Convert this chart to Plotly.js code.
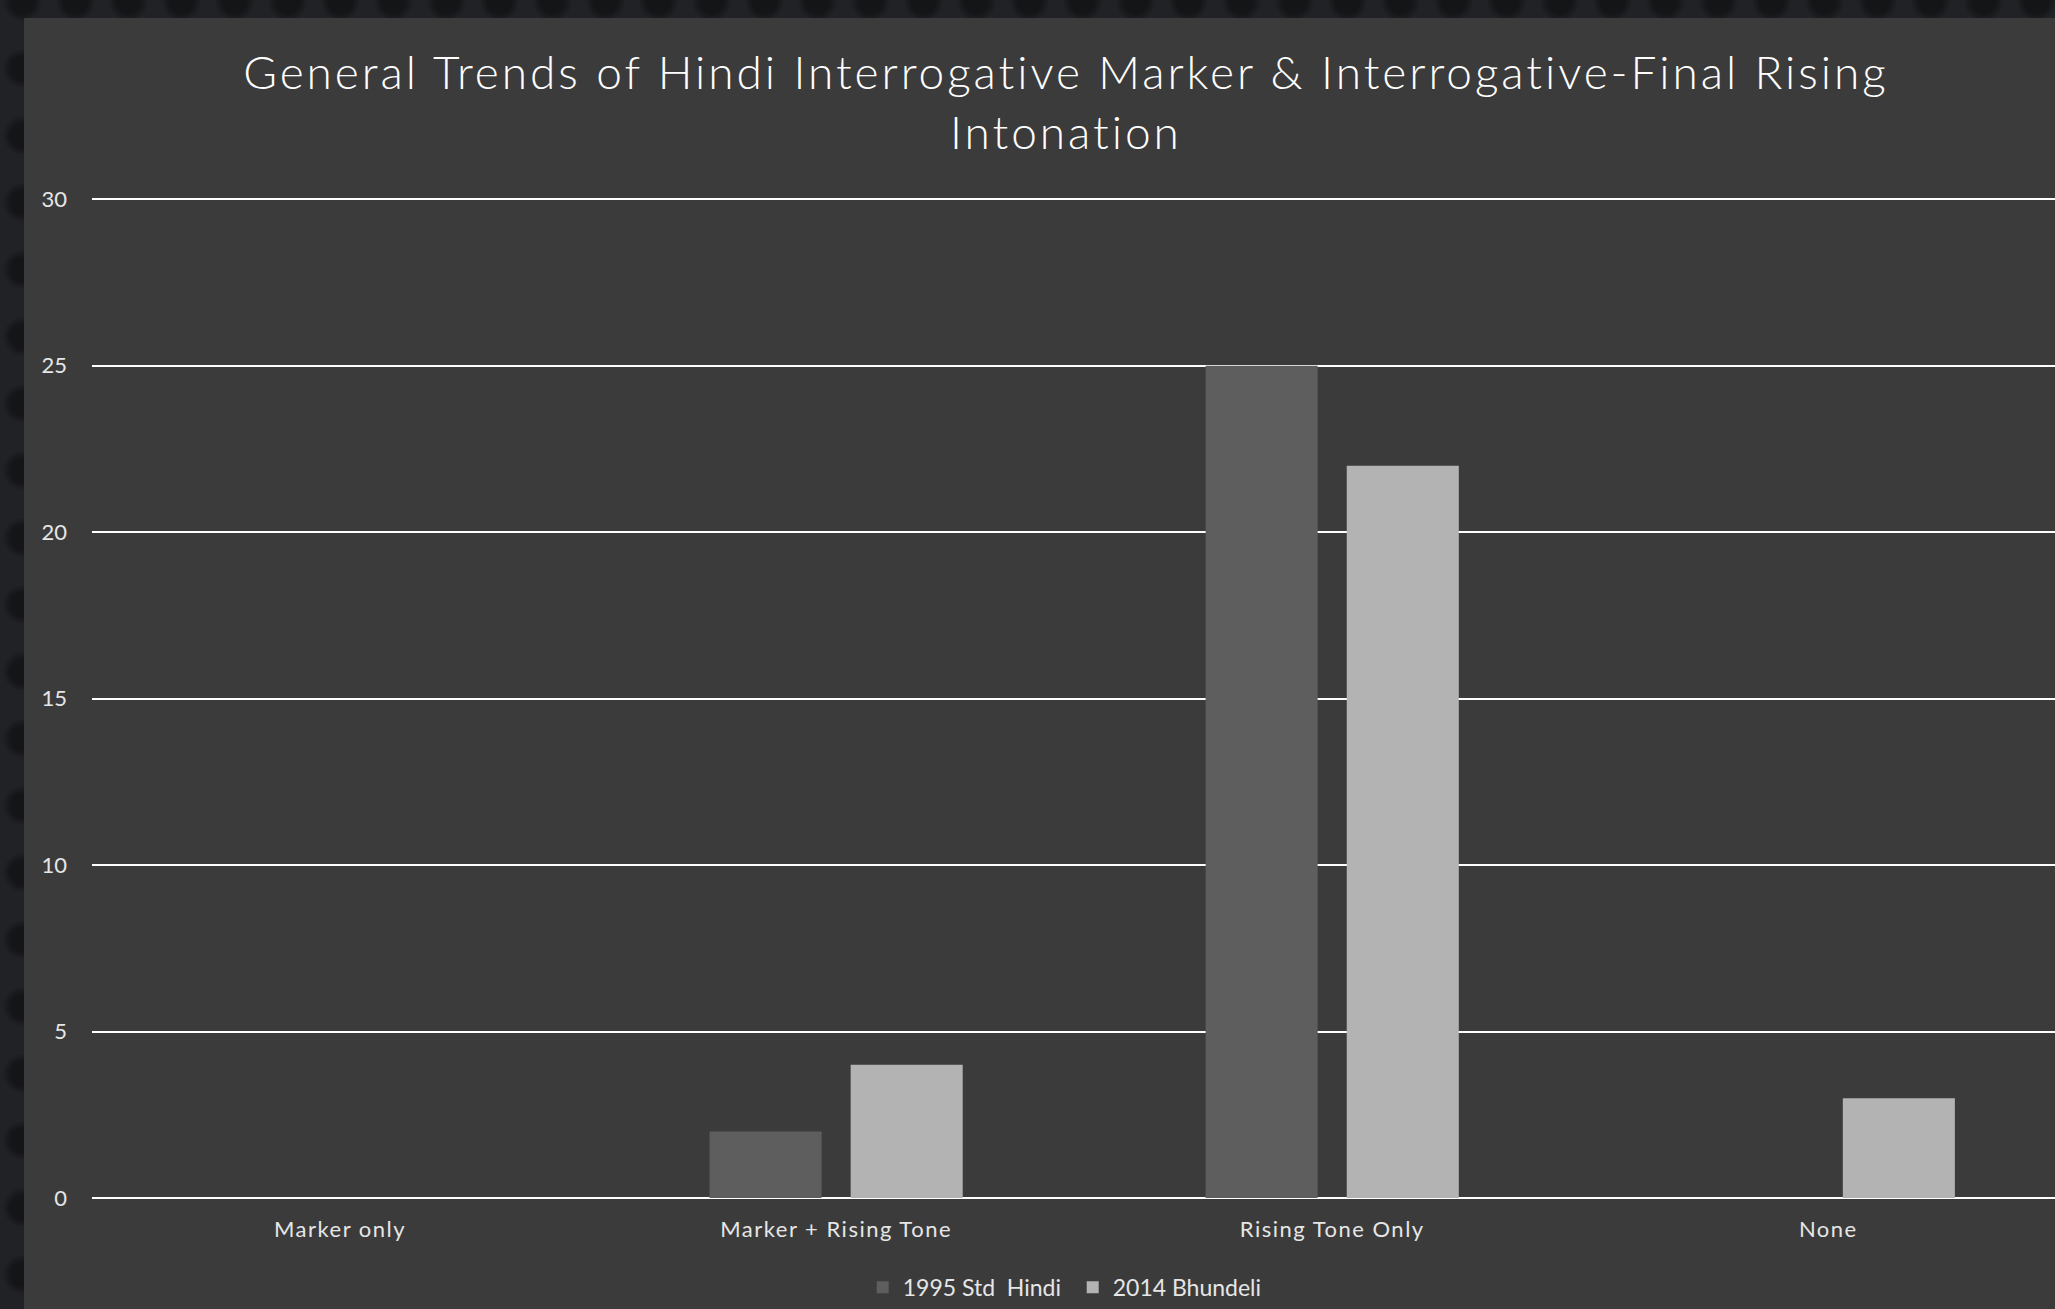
<!DOCTYPE html>
<html>
<head>
<meta charset="utf-8">
<script src="https://cdn.plot.ly/plotly-3.0.1.min.js"></script>
<style>
  html, body { margin: 0; padding: 0; width: 2055px; height: 1309px; overflow: hidden; }
  body {
    background-color: #202226;
    background-image: radial-gradient(circle at 50% 35%, #141517 0px, #141517 12px, rgba(20,21,23,0) 20px);
    background-size: 53px 67px;
    background-position: -4px -22px;
  }
  #chart { position: absolute; left: 24px; top: 18px; width: 2031px; height: 1291px; }
  #chart .gtitle { letter-spacing: 2.95px; }
  #chart .xtick text { letter-spacing: 1.5px; }
</style>
</head>
<body>
<div id="chart"></div>
<script>
const categories = ['Marker only', 'Marker + Rising Tone', 'Rising Tone Only', 'None'];
const std1995 = [0, 2, 25, 0];
const bhundeli2014 = [0, 4, 22, 3];
const seriesNames = ['1995 Std  Hindi', '2014 Bhundeli'];
const yTicks = [0, 5, 10, 15, 20, 25, 30];

const FONT = 'Lato, "Open Sans", sans-serif';

const traces = [
  {
    type: 'bar', name: seriesNames[0], x: categories, y: std1995,
    marker: { color: '#5e5e5e', line: { width: 0 } },
    hoverinfo: 'x+y'
  },
  {
    type: 'bar', name: seriesNames[1], x: categories, y: bhundeli2014,
    marker: { color: '#b3b3b3', line: { width: 0 } },
    hoverinfo: 'x+y'
  }
];

const layout = {
  width: 2031, height: 1291,
  paper_bgcolor: '#3b3b3b', plot_bgcolor: '#3b3b3b',
  margin: { l: 68, r: 0, t: 178, b: 111, pad: 0 },
  barmode: 'group', bargap: 0.431, bargroupgap: 0.206,
  font: { family: FONT, color: '#e6e6e6', size: 22 },
  title: {
    text: 'General Trends of Hindi Interrogative Marker &amp; Interrogative-Final Rising<br>Intonation',
    font: { family: FONT, size: 46, color: '#ffffff', weight: 300 },
    x: 0.513, xref: 'container', xanchor: 'center',
    y: 0.945, yref: 'container', yanchor: 'top'
  },
  xaxis: {
    type: 'category',
    range: [-0.5, 3.457],
    showgrid: false, zeroline: false, showline: false,
    ticks: '', ticklabelstandoff: 16,
    tickfont: { family: FONT, size: 22, color: '#e6e6e6' },
    fixedrange: true
  },
  yaxis: {
    range: [0, 30.1], tickvals: yTicks, ticktext: yTicks.map(String),
    showgrid: true, gridcolor: '#ffffff', gridwidth: 2,
    zeroline: true, zerolinecolor: '#ffffff', zerolinewidth: 2,
    showline: false, ticks: '', ticklabelstandoff: 24,
    tickfont: { family: FONT, size: 22, color: '#e6e6e6' },
    fixedrange: true
  },
  showlegend: true,
  legend: {
    orientation: 'h', x: 0.4996, xanchor: 'center', xref: 'paper',
    y: -0.089, yanchor: 'middle', entrywidth: 165,
    font: { family: FONT, size: 23, color: '#e6e6e6' },
    bgcolor: 'rgba(0,0,0,0)', itemclick: false, itemdoubleclick: false
  }
};

Plotly.newPlot('chart', traces, layout, { displayModeBar: false });
</script>
</body>
</html>
